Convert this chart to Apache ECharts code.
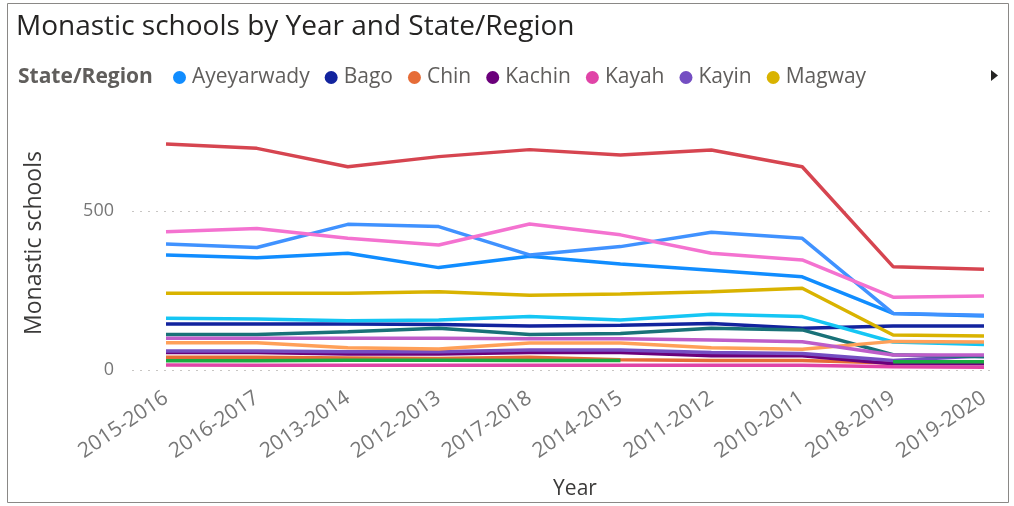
<!DOCTYPE html>
<html>
<head>
<meta charset="utf-8">
<script src="https://cdn.jsdelivr.net/npm/echarts@6/dist/echarts.min.js"></script>
<style>
  html, body { margin: 0; padding: 0; background: #ffffff; }
  #chart { width: 1014px; height: 506px; }
</style>
</head>
<body>
<div id="chart"></div>
<script>
// School years, in the order they appear on the axis
const years = ['2015-2016', '2016-2017', '2013-2014', '2012-2013', '2017-2018',
               '2014-2015', '2011-2012', '2010-2011', '2018-2019', '2019-2020'];

// Monastic schools per State/Region
const ayeyarwady  = [362, 353, 367, 322, 358, 333, 314, 293, 178, 170];
const bago        = [145, 145, 145, 143, 138, 141, 146, 131, 138, 138];
const chin        = [40, 40, 38, 36, 40, 32, 30, 30, 22, 22];
const kachin      = [55, 55, 50, 50, 55, 55, 45, 45, 20, 20];
const kayah       = [16, 15, 15, 15, 15, 15, 15, 15, 10, 9];
const kayin       = [60, 60, 57, 57, 63, 63, 55, 52, 30, 45];
const magway      = [241, 241, 241, 246, 235, 239, 246, 257, 110, 107];
const mandalay    = [711, 697, 639, 671, 693, 676, 692, 639, 325, 317];
const mon         = [112, 112, 120, 131, 112, 115, 131, 126, 48, 42];
const naypyitaw   = [29, 29, 31, 31, 30, 30, null, null, 26, 26];
const rakhine     = [163, 160, 155, 157, 168, 157, 175, 168, 88, 80];
const sagaing     = [396, 385, 458, 451, 362, 388, 433, 414, 178, 172];
const shan        = [86, 86, 70, 66, 85, 85, 70, 65, 90, 88];
const tanintharyi = [100, 100, 100, 100, 98, 98, 94, 89, 47, 47];
const yangon      = [435, 445, 414, 393, 459, 425, 367, 346, 229, 233];

const regionNames = ['Ayeyarwady', 'Bago', 'Chin', 'Kachin', 'Kayah', 'Kayin', 'Magway',
                     'Mandalay', 'Mon', 'Naypyitaw', 'Rakhine', 'Sagaing', 'Shan',
                     'Tanintharyi', 'Yangon'];
const regionValues = [ayeyarwady, bago, chin, kachin, kayah, kayin, magway,
                      mandalay, mon, naypyitaw, rakhine, sagaing, shan,
                      tanintharyi, yangon];
const palette = ['#118DFF', '#12239E', '#E66C37', '#6B007B', '#E044A7', '#744EC2', '#D9B300',
                 '#D64550', '#197278', '#1AAB40', '#15C6F4', '#4092FF', '#FFA058',
                 '#BE5DC9', '#F472D0'];

// Legend shows the first page of regions only
const legendPage = regionNames.slice(0, 7);

const yTicks = [0, 500];
const FONT = '"Segoe UI", "Open Sans", sans-serif';

const chart = echarts.init(document.getElementById('chart'), null, { renderer: 'canvas' });

const series = regionNames.map((name, i) => ({
  name: name,
  type: 'line',
  xAxisIndex: 0,
  yAxisIndex: 0,
  data: regionValues[i],
  showSymbol: false,
  symbol: 'none',
  connectNulls: false,
  lineStyle: { width: 3.5, color: palette[i] },
  itemStyle: { color: palette[i] },
  emphasis: { disabled: true },
  animation: false
}));

chart.setOption({
  animation: false,
  color: palette,
  textStyle: { fontFamily: FONT },
  title: {
    text: 'Monastic schools by Year and State/Region',
    left: 16, top: 13, padding: 0,
    textStyle: { fontFamily: FONT, fontSize: 28, fontWeight: 'normal', color: '#252423' }
  },
  legend: {
    data: legendPage,
    left: 173, top: 67, padding: 0,
    icon: 'circle',
    itemWidth: 13, itemHeight: 13,
    itemGap: 15,
    textStyle: { fontFamily: FONT, fontSize: 21, color: '#605E5C', padding: [0, 0, 0, 1] },
    selectedMode: false
  },
  grid: [
    { left: 166, right: 30, top: 131.5, bottom: 136, containLabel: false },
    { left: 132, right: 21, top: 131.5, bottom: 136, containLabel: false }
  ],
  xAxis: [
    {
      type: 'category', gridIndex: 0, data: years, boundaryGap: false,
      axisLine: { show: false }, axisTick: { show: false }, splitLine: { show: false },
      axisLabel: { rotate: 34, margin: 26, fontSize: 21, color: '#777777', fontFamily: FONT, interval: 0 },
      name: 'Year', nameLocation: 'middle', nameGap: 109,
      nameTextStyle: { fontSize: 21, color: '#3B3A39', fontFamily: FONT }
    },
    {
      type: 'category', gridIndex: 1, data: years, show: false
    }
  ],
  yAxis: [
    {
      type: 'value', gridIndex: 0, min: 0, max: 750, interval: 500,
      axisLine: { show: false }, axisTick: { show: false },
      axisLabel: { show: false }, splitLine: { show: false }
    },
    {
      type: 'value', gridIndex: 1, min: 0, max: 750, interval: 500,
      axisLine: { show: false }, axisTick: { show: false },
      axisLabel: {
        fontSize: 18, color: '#777777', margin: 18, fontFamily: FONT,
        showMaxLabel: false,
        formatter: v => (yTicks.indexOf(v) >= 0 ? String(v) : '')
      },
      splitLine: { show: true, showMaxLine: false, lineStyle: { type: [2, 6], color: '#C8C6C4', width: 1 } }
    }
  ],
  graphic: [
    {
      type: 'rect', silent: true,
      shape: { x: 7.5, y: 3.5, width: 1001, height: 499 },
      style: { fill: 'none', stroke: '#8A8886', lineWidth: 1 }
    },
    {
      type: 'text', left: 18, top: 67, silent: true,
      style: { text: 'State/Region', font: 'bold 21px ' + FONT, fill: '#605E5C' }
    },
    {
      type: 'text', silent: true,
      x: 34, y: 243, rotation: Math.PI / 2,
      style: {
        text: 'Monastic schools', font: '23px ' + FONT, fill: '#3B3A39',
        align: 'center', verticalAlign: 'middle'
      }
    },
    {
      type: 'polygon', silent: true,
      shape: { points: [[991, 70], [991, 81], [998, 75.5]] },
      style: { fill: '#252423' }
    }
  ],
  series: series
});
</script>
</body>
</html>
